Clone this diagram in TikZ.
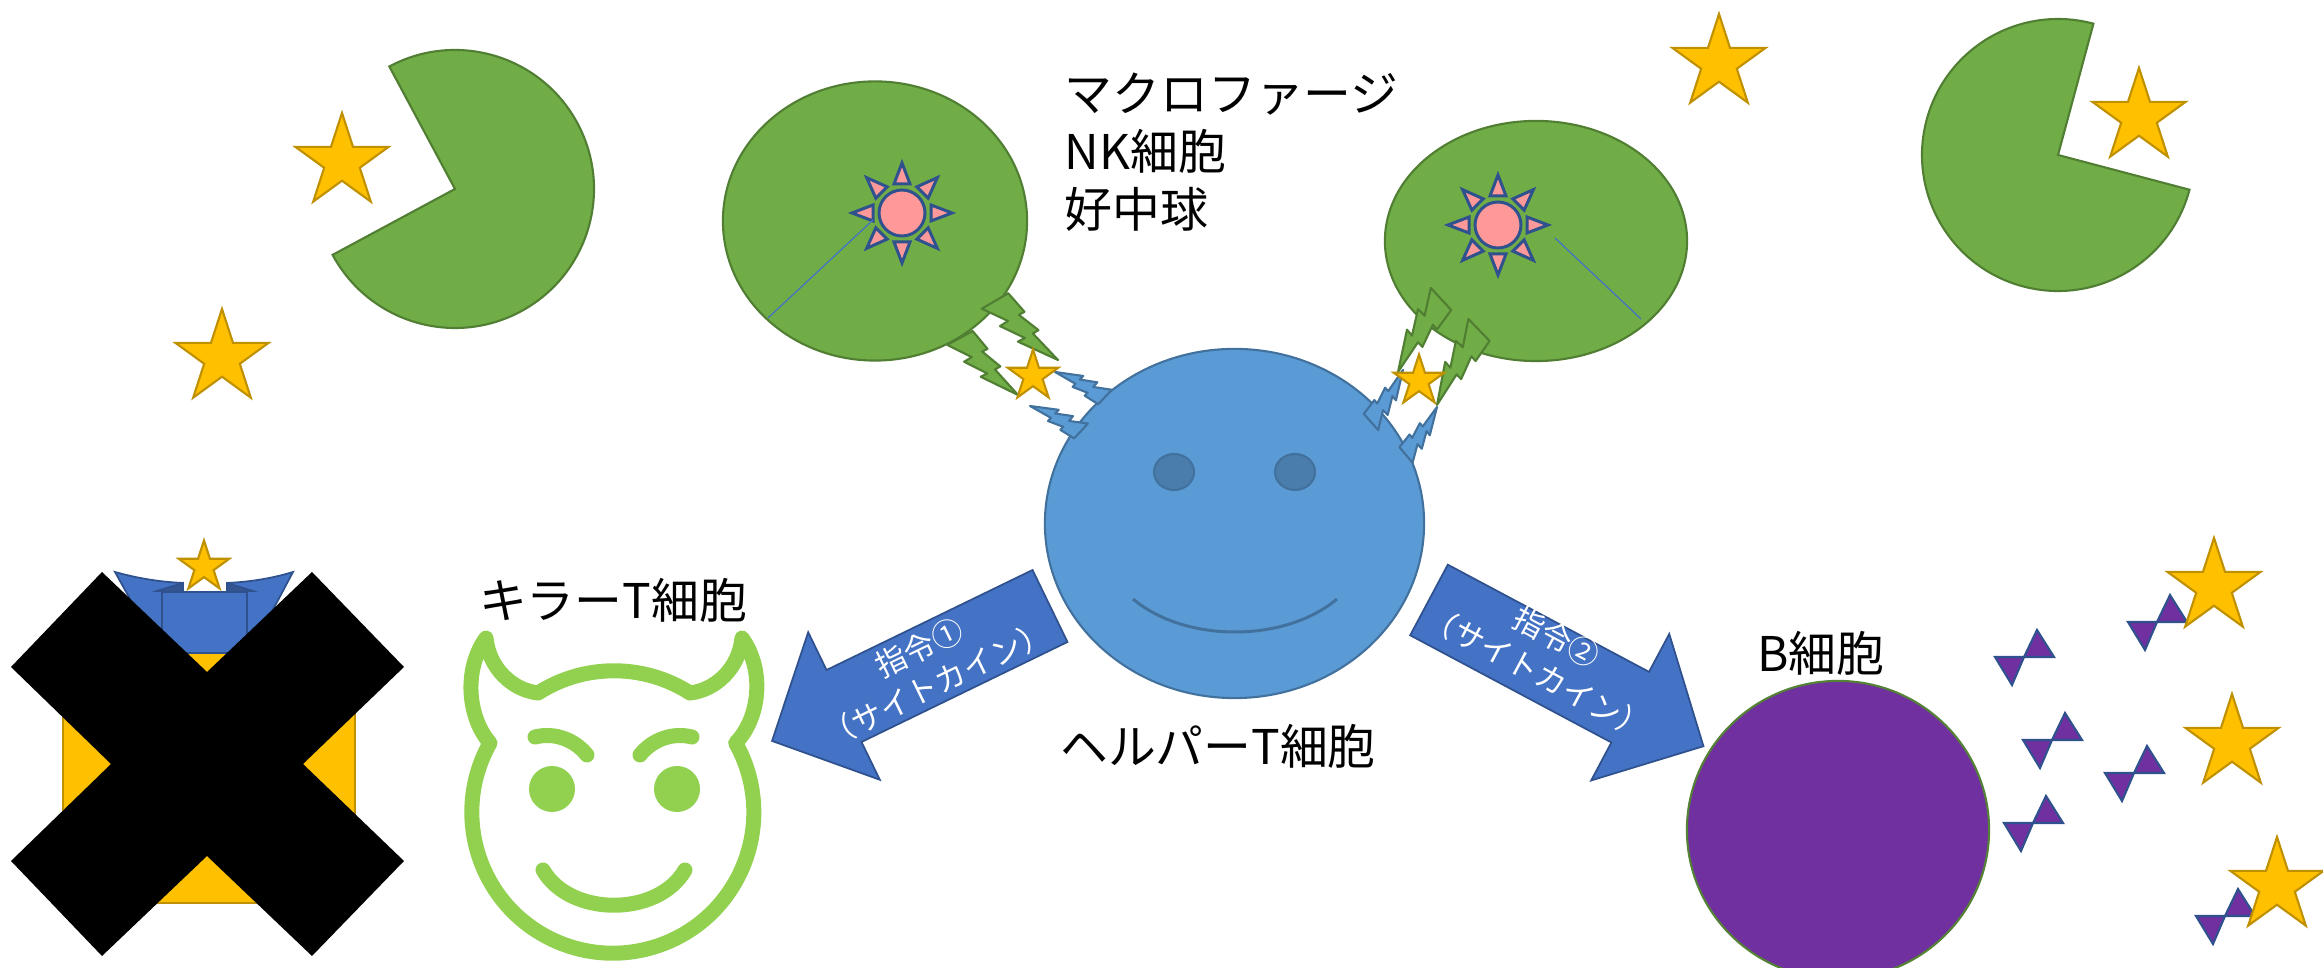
\documentclass[tikz,border=0pt]{standalone}
\usepackage{fontspec}
\setmainfont{Noto Sans CJK JP}
\usetikzlibrary{shapes.geometric}

\definecolor{cellgreen}{HTML}{70AD47}
\definecolor{cellgreenline}{HTML}{507E32}
\definecolor{helperblue}{HTML}{5B9BD5}
\definecolor{helperline}{HTML}{41719C}
\definecolor{helpereye}{HTML}{4A7DAB}
\definecolor{staryellow}{HTML}{FFC000}
\definecolor{starline}{HTML}{BF9000}
\definecolor{sunpink}{HTML}{FF9999}
\definecolor{darkblue}{HTML}{2F528F}
\definecolor{orderblue}{HTML}{4472C4}
\definecolor{bpurple}{HTML}{7030A0}
\definecolor{bline}{HTML}{548235}
\definecolor{killergreen}{HTML}{92D050}

\tikzset{
  cell/.style={fill=cellgreen, draw=cellgreenline, line width=0.6pt},
  cellline/.style={draw=orderblue, line width=0.35pt},
  bigstar/.style={star, star points=5, star point ratio=2.618, fill=staryellow,
    draw=starline, line width=0.6pt, inner sep=0pt, minimum size=0.98cm},
  smallstar/.style={bigstar, minimum size=0.53cm},
  sunray/.style={fill=sunpink, draw=darkblue, line width=0.85pt},
  greenzap/.style={fill=cellgreen, draw=cellgreenline, line width=0.6pt, line join=round},
  bluezap/.style={fill=helperblue, draw=helperline, line width=0.6pt, line join=round},
  order/.style={fill=orderblue, draw=darkblue, line width=0.5pt},
  ordertext/.style={text=white, align=center, inner sep=0pt,
    font=\fontsize{8.8}{11.4}\selectfont},
  celltext/.style={inner sep=0pt, font=\fontsize{13.6}{16.5}\selectfont},
  antibody/.style={fill=bpurple, draw=darkblue, line width=0.6pt},
  killer/.style={draw=killergreen, line width=0.15cm, line cap=round, line join=round}
}

% lightning bolt from base (#2,#3) to tip (#4,#5)
\newcommand{\zap}[5][]{%
  \pgfmathsetmacro{\zapangle}{atan2(#5-#3,#4-#2)}%
  \pgfmathsetmacro{\zaplength}{veclen(#4-#2,#5-#3)}%
  \filldraw[#1, shift={(#2,#3)}, rotate=-\zapangle, scale=\zaplength]
    (0.051,-0.170) -- (0.335,-0.142) -- (0.311,-0.072) -- (0.599,-0.098)
    -- (0.578,-0.025) -- (1,0) -- (0.516,0.162) -- (0.546,0.076)
    -- (0.241,0.173) -- (0.269,0.066) -- (-0.051,0.170) -- cycle;
}

% antibody: two small triangles meeting at (#1,#2)
\newcommand{\antibody}[2]{%
  \filldraw[antibody, shift={(#1,#2)}] (-29,0) -- (0,0) -- (-12,28) -- cycle
    (0,0) -- (30,0) -- (13,-27) -- cycle;
}

% sun inside a phagocyte
\newcommand{\sunat}[2]{%
  \begin{scope}[shift={(#1,#2)}]
    \filldraw[sunray] (29,-8) -- (50,0) -- (29,8) -- cycle;
    \filldraw[sunray, rotate=45] (29,-8) -- (50,0) -- (29,8) -- cycle;
    \filldraw[sunray, rotate=90] (29,-8) -- (50,0) -- (29,8) -- cycle;
    \filldraw[sunray, rotate=135] (29,-8) -- (50,0) -- (29,8) -- cycle;
    \filldraw[sunray, rotate=180] (29,-8) -- (50,0) -- (29,8) -- cycle;
    \filldraw[sunray, rotate=225] (29,-8) -- (50,0) -- (29,8) -- cycle;
    \filldraw[sunray, rotate=270] (29,-8) -- (50,0) -- (29,8) -- cycle;
    \filldraw[sunray, rotate=315] (29,-8) -- (50,0) -- (29,8) -- cycle;
    \filldraw[sunray] (0,0) circle[radius=23];
  \end{scope}}

\begin{document}
\begin{tikzpicture}[x=0.01cm, y=-0.01cm]
\path[use as bounding box] (0,0) rectangle (2323,968);
\clip (0,0) rectangle (2323,968);

% Pacman eating a star, left
\filldraw[cell] (455,189) -- ++(241.8:139) arc[start angle=241.8, end angle=511.7, radius=139] -- cycle;
\node[bigstar] (starA) at (342,162) {};
\node[bigstar] (starB) at (222,358) {};

% Dead cell under the cross
\filldraw[fill=staryellow, draw=starline, line width=0.6pt] (63,653) rectangle (355,903);
\filldraw[order] (115,572) .. controls (140,579) and (162,582) .. (183,583) -- (183,592)
  -- (227,592) -- (227,583) .. controls (248,582) and (270,579) .. (293,572)
  -- (250,653) -- (160,653) -- cycle;
\filldraw[order, fill=orderblue!75!black] (157,591) -- (183,583) -- (183,592) -- cycle;
\filldraw[order, fill=orderblue!75!black] (253,591) -- (227,583) -- (227,592) -- cycle;
\filldraw[order] (162,592) rectangle (247,653);
\node[smallstar] (starG) at (204,567) {};
\fill[black] (102,572) -- (207,672) -- (312,572) -- (404,667) -- (303,764) -- (404,861)
  -- (312,956) -- (207,856) -- (102,956) -- (11,861) -- (111,764) -- (11,667) -- cycle;

% Killer T cell
\draw[killer] (490,743) arc[start angle=209.4, end angle=-29.4, radius=141]
  .. controls (760,718) and (765,670) .. (742,638)
  .. controls (739,668) and (716,690) .. (690,693)
  arc[start angle=-57.4, end angle=-122.6, radius=141]
  .. controls (512,690) and (489,668) .. (486,638)
  .. controls (463,670) and (468,718) .. (490,743) -- cycle;
\draw[killer] (535,737) .. controls (555,732) and (575,740) .. (587,755);
\draw[killer] (640,755) .. controls (652,740) and (672,732) .. (692,737);
\fill[killergreen] (552,789) circle[radius=23];
\fill[killergreen] (677,789) circle[radius=23];
\draw[killer] (543,870) .. controls (570,917) and (658,917) .. (685,870);
\node[celltext] (killername) at (613,600) {キラーT細胞};

% Order 1
\filldraw[order, shift={(1050,606)}, rotate=-154.1] (0,-40) -- (229,-40) -- (229,-82)
  -- (309,0) -- (229,82) -- (229,40) -- (0,40) -- cycle;
\node[ordertext, rotate=25.9] (order1) at (928,666) {指令①\\（サイトカイン）};

% Phagocytes
\node[cell, ellipse, minimum width=3.04cm, minimum height=2.79cm] (mphL) at (875,221) {};
\node[cell, ellipse, minimum width=3.02cm, minimum height=2.40cm] (mphR) at (1536,241) {};
\sunat{902}{213}
\sunat{1498}{225}
\draw[cellline] (873,220) -- (768,318);
\draw[cellline] (1555,238) -- (1641,319);

% Signals between phagocytes and helper T
\zap[greenzap]{995}{301}{1058}{360}
\zap[greenzap]{960}{338}{1018}{395}
\zap[greenzap]{1441}{299}{1398}{372}
\zap[greenzap]{1479}{330}{1437}{405}

% Helper T cell
\node[ellipse, fill=helperblue, draw=helperline, line width=0.6pt,
  minimum width=3.79cm, minimum height=3.49cm] (helper) at (1234.5,523.5) {};
\filldraw[fill=helpereye, draw=helperline, line width=0.6pt] (1174,472) ellipse[x radius=20, y radius=18];
\filldraw[fill=helpereye, draw=helperline, line width=0.6pt] (1295,472) ellipse[x radius=20, y radius=18];
\draw[helperline, line width=0.85pt] (1133,599) .. controls (1185,643) and (1285,643) .. (1337,599);
\zap[bluezap]{1105}{397}{1055}{372}
\zap[bluezap]{1081}{431}{1030}{406}
\zap[bluezap]{1371}{422}{1403}{370}
\zap[bluezap]{1406}{455}{1437}{407}
\node[smallstar] (starE) at (1033,376) {};
\node[smallstar] (starF) at (1419,381) {};
\node[celltext] (helpername) at (1218,746) {ヘルパーT細胞};
\node[celltext, anchor=west, align=left] (mphname) at (1064,152) {マクロファージ\\NK細胞\\好中球};

% Order 2
\filldraw[order, shift={(1429,600)}, rotate=-28.05] (0,-40) -- (228,-40) -- (228,-83)
  -- (311,0) -- (228,83) -- (228,40) -- (0,40) -- cycle;
\node[ordertext, rotate=-28.05] (order2) at (1547,655) {指令②\\（サイトカイン）};

% B cell and antibodies
\node[ellipse, fill=bpurple, draw=bline, line width=0.6pt,
  minimum width=3.02cm, minimum height=2.98cm] (bcell) at (1838,830) {};
\node[celltext] (bname) at (1821,653) {B細胞};
\antibody{2024}{657}
\antibody{2052}{740}
\antibody{2033}{823}
\antibody{2134}{773}
\antibody{2157}{622}
\antibody{2225}{916}
\node[bigstar] (starH) at (2214,587) {};
\node[bigstar] (starI) at (2232,743) {};
\node[bigstar] (starJ) at (2277,886) {};

% Pacman eating a star, right
\filldraw[cell] (2058,155) -- ++(14.8:136) arc[start angle=14.8, end angle=285.1, radius=136] -- cycle;
\node[bigstar] (starD) at (2139,117) {};
\node[bigstar] (starC) at (1719,63) {};

\end{tikzpicture}
\end{document}
